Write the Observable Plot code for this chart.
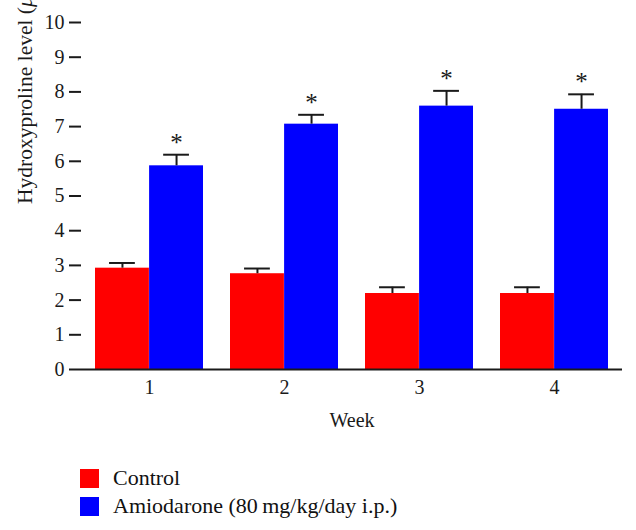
<!DOCTYPE html>
<html><head><meta charset="utf-8">
<script src="https://cdn.jsdelivr.net/npm/d3@7"></script>
<script src="https://cdn.jsdelivr.net/npm/@observablehq/plot@0.6"></script>
<style>
html,body{margin:0;background:#fff;font-family:"Liberation Serif",serif;color:#111;overflow:hidden;}
.leg{display:flex;align-items:center;height:28px;margin-left:80px;font-size:22px;}
.sw{width:19px;height:19px;margin-right:14px;}
</style></head><body><div id="chart"></div><div id="legend"></div><script>
const weeks = ["1", "2", "3", "4"];
const groups = ["Control", "Amiodarone (80\u2009mg/kg/day i.p.)"];
const groupColors = ["#ff0000", "#0000ff"];
const controlMean = [2.92, 2.76, 2.19, 2.19];
const controlErr = [0.15, 0.15, 0.18, 0.18];
const amioMean = [5.87, 7.07, 7.59, 7.50];
const amioErr = [0.32, 0.27, 0.44, 0.43];
const amioSignificant = [true, true, true, true];
const yTicks = [0, 1, 2, 3, 4, 5, 6, 7, 8, 9, 10];
const yLabel = "Hydroxyproline level (\u03bcg/g lung)";
const xLabel = "Week";

const control = weeks.map((w, i) => ({week: w, mean: controlMean[i], top: controlMean[i] + controlErr[i]}));
const amio = weeks.map((w, i) => ({week: w, mean: amioMean[i], top: amioMean[i] + amioErr[i], sig: amioSignificant[i]}));

const bw = 108.2, half = bw / 2, cap = 13;
const ink = "#1a1a1a";

const chart = Plot.plot({
  width: 636, height: 464,
  marginLeft: 81, marginRight: 14, marginTop: 22, marginBottom: 95,
  style: {fontFamily: "'Liberation Serif', serif", fontSize: "20px", color: ink, background: "#fff", maxWidth: "none"},
  x: {domain: weeks, paddingInner: 0.2, paddingOuter: 0.1, axis: null},
  y: {domain: [0, 10], axis: null},
  marks: [
    Plot.barY(control, {x: "week", y: "mean", fill: groupColors[0], insetRight: half}),
    Plot.barY(amio, {x: "week", y: "mean", fill: groupColors[1], insetLeft: half}),
    Plot.ruleX(control, {x: "week", y1: "mean", y2: "top", dx: -half / 2, strokeWidth: 2}),
    Plot.ruleX(amio, {x: "week", y1: "mean", y2: "top", dx: half / 2, strokeWidth: 2}),
    Plot.tickY(control, {x: "week", y: "top", insetLeft: half / 2 - cap, insetRight: bw - half / 2 - cap, strokeWidth: 2}),
    Plot.tickY(amio, {x: "week", y: "top", insetLeft: half + half / 2 - cap, insetRight: half / 2 - cap, strokeWidth: 2}),
    Plot.text(amio.filter(d => d.sig), {x: "week", y: "top", text: () => "*", dx: half / 2, dy: -12, fontSize: 25}),
    Plot.ruleY([0], {strokeWidth: 2}),
    Plot.axisY({ticks: yTicks, tickSize: 12, strokeWidth: 2, tickFormat: () => "", label: null, line: true}),
    Plot.text(yTicks, {y: d => d, text: d => String(d), frameAnchor: "left", dx: -17, textAnchor: "end", fontSize: 20}),
    Plot.text(weeks, {x: d => d, text: d => d, frameAnchor: "bottom", dy: 10, lineAnchor: "top", fontSize: 20}),
    Plot.text([xLabel], {frameAnchor: "bottom", dy: 57, lineAnchor: "bottom", fontSize: 20}),
    Plot.text([yLabel], {frameAnchor: "left", rotate: -90, dx: -56, dy: 8, fontSize: 21.5})
  ]
});
document.getElementById("chart").appendChild(chart);

// italicize the micro sign in the y label
d3.select(chart).selectAll("text").each(function() {
  const t = this.textContent;
  if (t === yLabel) {
    const i = t.indexOf("\u03bc");
    const sel = d3.select(this);
    sel.text(null);
    sel.append("tspan").text(t.slice(0, i));
    sel.append("tspan").attr("font-style", "italic").text("\u03bc");
    sel.append("tspan").text(t.slice(i + 1));
  }
});

const legend = document.getElementById("legend");
groups.forEach((g, i) => {
  const row = document.createElement("div");
  row.className = "leg";
  const sw = document.createElement("div");
  sw.className = "sw";
  sw.style.background = groupColors[i];
  const lab = document.createElement("span");
  lab.textContent = g;
  row.appendChild(sw); row.appendChild(lab);
  legend.appendChild(row);
});
</script></body></html>
